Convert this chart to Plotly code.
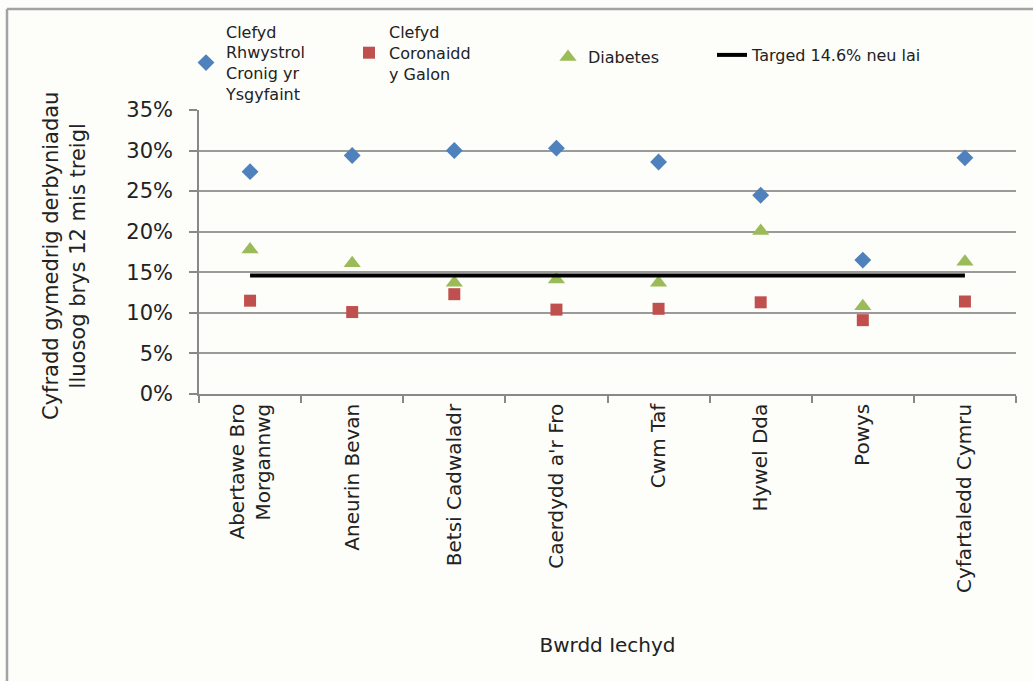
import plotly.graph_objects as go

# Health boards (x categories)
boards = [
    "Abertawe Bro<br>Morgannwg",
    "Aneurin Bevan",
    "Betsi Cadwaladr",
    "Caerdydd a'r Fro",
    "Cwm Taf",
    "Hywel Dda",
    "Powys",
    "Cyfartaledd Cymru",
]

# Rolling 12-month emergency readmission rates (fraction)
copd = [0.274, 0.294, 0.300, 0.303, 0.286, 0.245, 0.165, 0.291]
chd = [0.115, 0.101, 0.123, 0.104, 0.105, 0.113, 0.091, 0.114]
diabetes = [0.178, 0.161, 0.137, 0.141, 0.137, 0.201, 0.108, 0.163]
target = 0.146

name_copd = "Clefyd<br>Rhwystrol<br>Cronig yr<br>Ysgyfaint"
name_chd = "Clefyd<br>Coronaidd<br>y Galon"
name_diab = "Diabetes"
name_target = "Targed 14.6% neu lai"

W, H = 1033, 681
ML, MR, MT, MB = 199, 17, 110, 287

BG = "#fdfdfa"
TXT = "#222222"
GRID = "#9a9a9a"
FONT = "DejaVu Sans, Liberation Sans, sans-serif"

fig = go.Figure()

fig.add_trace(go.Scatter(
    x=boards, y=copd, mode="markers", name=name_copd,
    marker=dict(symbol="diamond", size=13, color="#4F81BD"),
    legend="legend",
))
fig.add_trace(go.Scatter(
    x=boards, y=chd, mode="markers", name=name_chd,
    marker=dict(symbol="square", size=12, color="#C0504D"),
    legend="legend2",
))
fig.add_trace(go.Scatter(
    x=boards, y=diabetes, mode="markers", name=name_diab,
    marker=dict(symbol="triangle-up", size=15, color="#9BBB59"),
    legend="legend3",
))
fig.add_trace(go.Scatter(
    x=boards, y=[target] * len(boards), mode="lines", name=name_target,
    line=dict(color="black", width=4),
    legend="legend4",
))

legend_font = dict(family=FONT, size=16, color=TXT)


def legend_at(px, py):
    return dict(
        xref="container", yref="container",
        x=px / W, y=1 - py / H, xanchor="left", yanchor="middle",
        bgcolor="rgba(0,0,0,0)", font=legend_font, itemwidth=30,
        valign="middle",
    )


# Pixel -> paper coordinate helpers for the frame and titles
px_to_paper_x = lambda px: (px - ML) / (W - ML - MR)
px_to_paper_y = lambda py: (H - MB - py) / (H - MT - MB)

frame_color = "#a3a3a3"

fig.update_layout(
    width=W, height=H,
    margin=dict(l=ML, r=MR, t=MT, b=MB, autoexpand=False),
    paper_bgcolor=BG, plot_bgcolor=BG,
    font=dict(family=FONT, color=TXT),
    showlegend=True,
    legend=legend_at(186, 63),
    legend2=legend_at(349, 53),
    legend3=legend_at(548, 57),
    legend4=legend_at(712, 55),
    shapes=[
        dict(type="line", xref="paper", yref="paper",
             x0=px_to_paper_x(7), x1=px_to_paper_x(W + 5),
             y0=px_to_paper_y(9), y1=px_to_paper_y(9),
             line=dict(color=frame_color, width=2.5)),
        dict(type="line", xref="paper", yref="paper",
             x0=px_to_paper_x(7), x1=px_to_paper_x(7),
             y0=px_to_paper_y(9), y1=px_to_paper_y(H + 5),
             line=dict(color=frame_color, width=2.5)),
    ],
    annotations=[
        dict(text="Cyfradd gymedrig derbyniadau<br>lluosog brys 12 mis treigl",
             xref="paper", yref="paper",
             x=px_to_paper_x(64), y=px_to_paper_y(256),
             xanchor="center", yanchor="middle", textangle=-90,
             showarrow=False, font=dict(family=FONT, size=21, color=TXT)),
    ],
)

fig.update_xaxes(
    type="category",
    range=[-0.5, len(boards) - 0.5],
    tickson="boundaries",
    ticks="outside", ticklen=7, tickcolor="#888888", tickwidth=1.5,
    showline=True, linecolor="#888888", linewidth=1.5,
    showgrid=False,
    tickangle=-90,
    tickfont=dict(family=FONT, size=20, color=TXT),
    title=dict(text="Bwrdd Iechyd", standoff=46,
               font=dict(family=FONT, size=20, color=TXT)),
)

fig.update_yaxes(
    range=[0, 0.35], dtick=0.05, tickformat=".0%",
    ticks="outside", ticklen=8, tickcolor="#888888", tickwidth=1.5,
    showline=True, linecolor="#888888", linewidth=1.5,
    showgrid=True, gridcolor=GRID, gridwidth=1.5,
    zeroline=False,
    ticklabelstandoff=12,
    tickfont=dict(family=FONT, size=21, color=TXT),
)

fig.write_html("out.html")
